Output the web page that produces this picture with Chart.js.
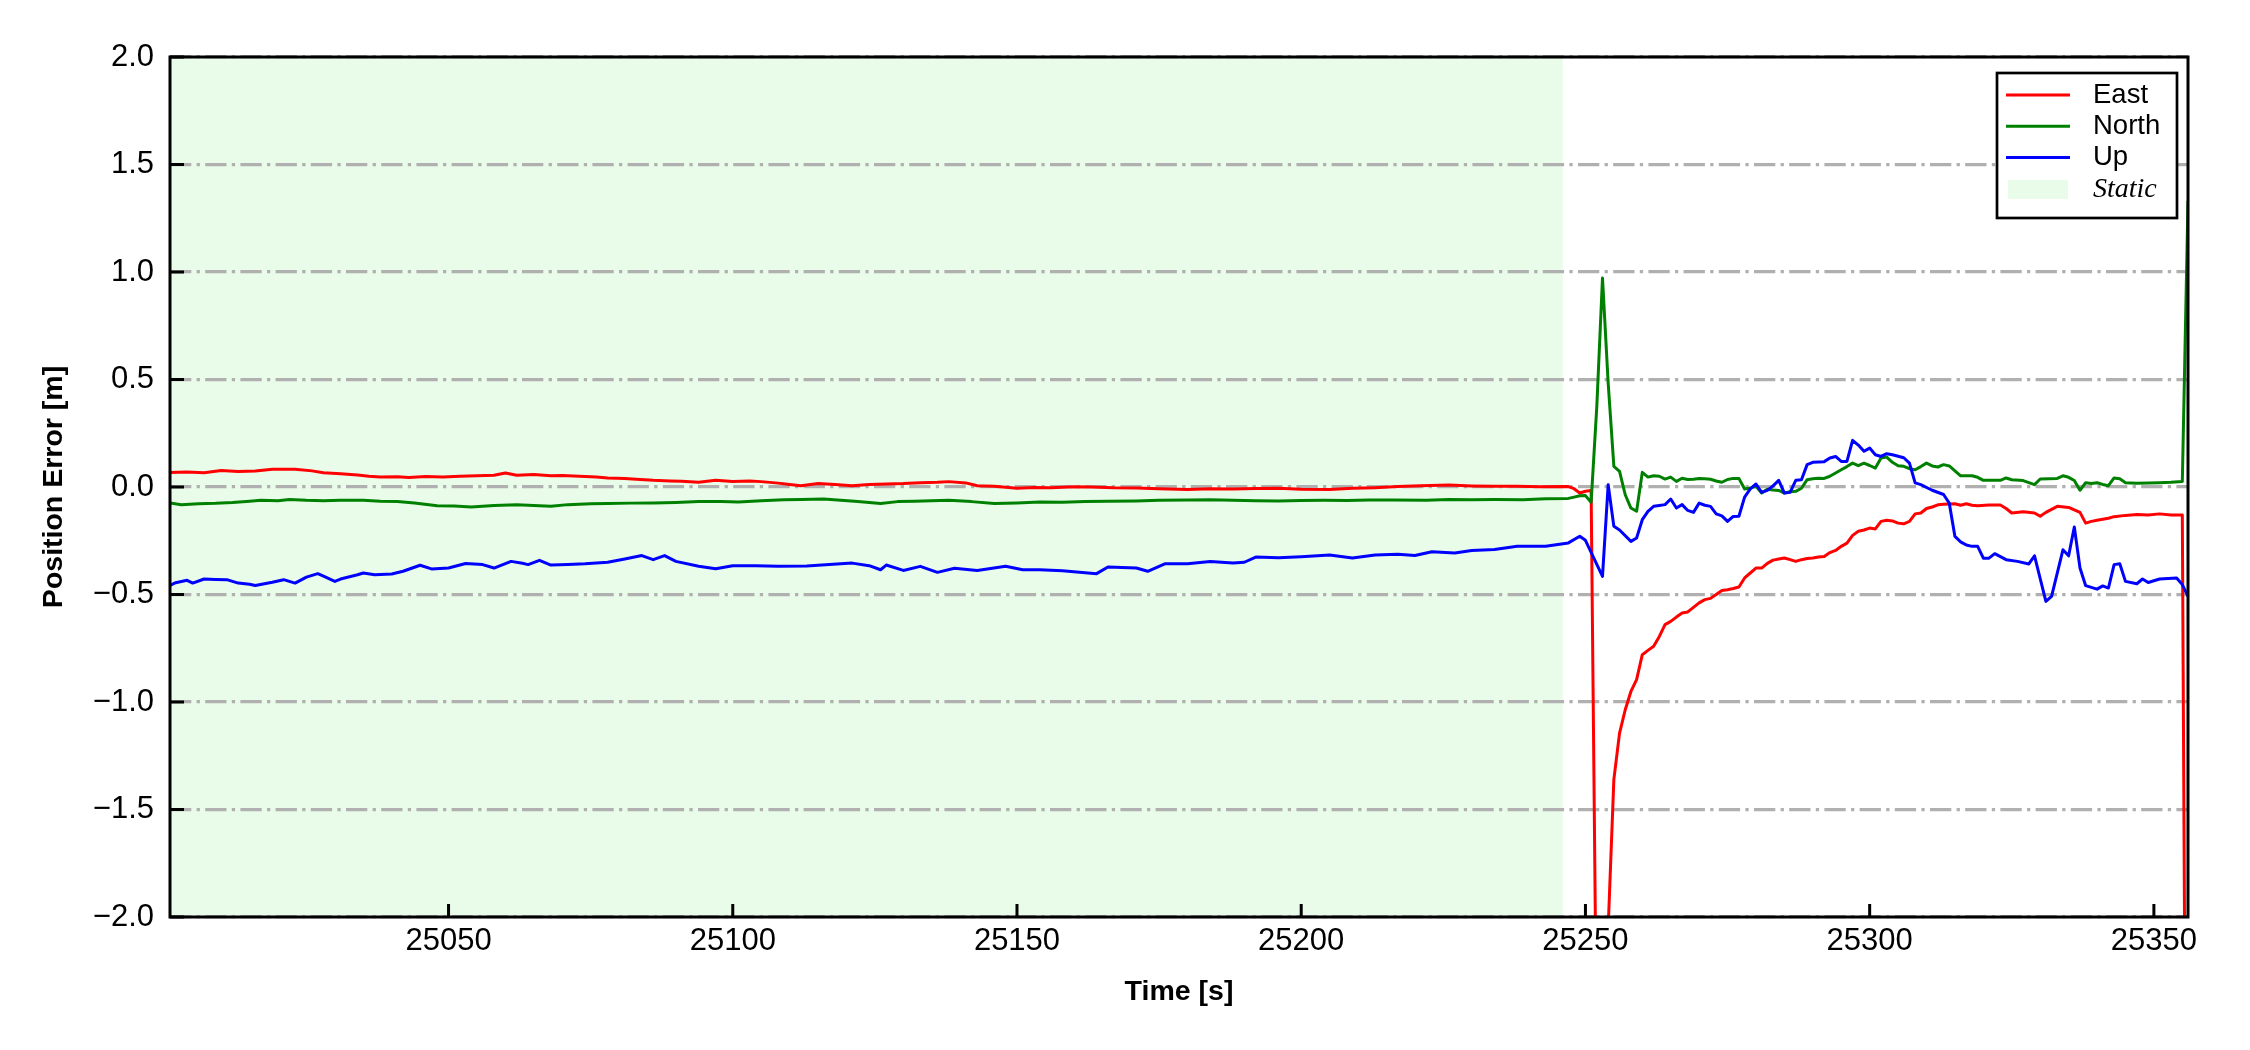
<!DOCTYPE html>
<html>
<head>
<meta charset="utf-8">
<script src="https://cdn.jsdelivr.net/npm/chart.js@4.4.1/dist/chart.umd.min.js"></script>
<style>
  html, body { margin: 0; padding: 0; background: #fff; }
</style>
</head>
<body>
<canvas id="chart" width="2250" height="1050"></canvas>
<script>
// position error [m] against time [s]: [time, value]
const east = [
  [25001,0.068],[25004,0.070],[25007,0.066],[25010,0.077],[25013,0.072],[25016,0.074],[25019,0.083],[25023,0.083],
  [25026,0.075],[25028,0.066],[25031,0.062],[25034,0.056],[25036,0.050],[25038,0.046],[25041,0.048],[25043,0.044],
  [25046,0.049],[25049,0.046],[25052,0.050],[25055,0.052],[25058,0.055],[25060,0.065],[25062,0.055],[25065,0.058],
  [25068,0.052],[25070,0.053],[25073,0.050],[25076,0.046],[25078,0.042],[25081,0.040],[25083,0.036],[25086,0.031],
  [25089,0.028],[25091,0.027],[25094,0.022],[25097,0.031],[25100,0.026],[25103,0.028],[25105,0.025],[25108,0.018],
  [25110,0.012],[25112,0.006],[25115,0.016],[25118,0.012],[25121,0.006],[25124,0.012],[25127,0.014],[25130,0.016],
  [25133,0.020],[25136,0.022],[25138,0.025],[25141,0.019],[25143,0.006],[25146,0.004],[25150,-0.006],[25153,-0.002],
  [25156,-0.003],[25160,0.001],[25163,0.000],[25167,-0.004],[25171,-0.005],[25175,-0.008],[25180,-0.012],[25184,-0.008],
  [25188,-0.009],[25192,-0.007],[25196,-0.006],[25200,-0.010],[25205,-0.012],[25209,-0.006],[25213,-0.003],[25217,0.002],
  [25221,0.006],[25226,0.009],[25230,0.005],[25234,0.003],[25238,0.004],[25242,0.001],[25247,0.002],[25248,-0.008],
  [25249,-0.028],[25250,-0.020],[25251,-0.016],[25252,-2.7],[25253,-3.2],[25254,-2.05],[25255,-1.36],[25256,-1.145],
  [25257,-1.036],[25258,-0.951],[25259,-0.896],[25260,-0.780],[25261,-0.760],[25262,-0.741],[25263,-0.695],[25264,-0.640],
  [25265,-0.625],[25266,-0.605],[25267,-0.586],[25268,-0.581],[25269,-0.560],[25270,-0.539],[25271,-0.524],[25272,-0.518],
  [25273,-0.500],[25274,-0.481],[25275,-0.478],[25276,-0.472],[25277,-0.465],[25278,-0.423],[25279,-0.400],[25280,-0.377],
  [25281,-0.377],[25282,-0.355],[25283,-0.340],[25284,-0.335],[25285,-0.330],[25286,-0.338],[25287,-0.346],[25288,-0.338],
  [25289,-0.333],[25290,-0.330],[25291,-0.326],[25292,-0.323],[25293,-0.305],[25294,-0.295],[25295,-0.276],[25296,-0.261],
  [25297,-0.225],[25298,-0.206],[25299,-0.200],[25300,-0.191],[25301,-0.195],[25302,-0.160],[25303,-0.155],[25304,-0.158],
  [25305,-0.168],[25306,-0.171],[25307,-0.160],[25308,-0.125],[25309,-0.121],[25310,-0.100],[25311,-0.093],[25312,-0.083],
  [25313,-0.080],[25315,-0.078],[25316,-0.085],[25317,-0.078],[25318,-0.085],[25319,-0.087],[25321,-0.084],[25323,-0.084],
  [25324,-0.100],[25325,-0.121],[25327,-0.115],[25329,-0.121],[25330,-0.136],[25331,-0.118],[25333,-0.090],[25335,-0.095],
  [25337,-0.118],[25338,-0.168],[25339,-0.160],[25340,-0.155],[25342,-0.145],[25343,-0.138],[25345,-0.132],[25347,-0.128],
  [25349,-0.130],[25351,-0.125],[25353,-0.130],[25355,-0.130],[25356,-5.0]
];

const north = [
  [25001,-0.074],[25003,-0.083],[25006,-0.078],[25009,-0.076],[25012,-0.072],[25015,-0.066],[25017,-0.062],[25020,-0.064],
  [25022,-0.058],[25025,-0.062],[25028,-0.064],[25031,-0.062],[25035,-0.062],[25038,-0.066],[25041,-0.068],[25044,-0.074],
  [25048,-0.087],[25051,-0.088],[25054,-0.093],[25058,-0.086],[25062,-0.082],[25065,-0.086],[25068,-0.090],[25071,-0.082],
  [25075,-0.078],[25078,-0.077],[25082,-0.075],[25086,-0.074],[25090,-0.072],[25094,-0.068],[25098,-0.068],[25101,-0.070],
  [25105,-0.064],[25109,-0.059],[25112,-0.058],[25116,-0.056],[25119,-0.062],[25122,-0.068],[25126,-0.077],[25129,-0.068],
  [25132,-0.066],[25135,-0.064],[25138,-0.062],[25142,-0.068],[25146,-0.077],[25150,-0.074],[25154,-0.070],[25158,-0.071],
  [25162,-0.068],[25166,-0.066],[25171,-0.065],[25175,-0.062],[25180,-0.060],[25184,-0.059],[25188,-0.062],[25192,-0.064],
  [25196,-0.065],[25200,-0.063],[25204,-0.062],[25208,-0.063],[25212,-0.061],[25216,-0.060],[25222,-0.062],[25226,-0.058],
  [25230,-0.059],[25234,-0.058],[25239,-0.059],[25243,-0.055],[25247,-0.053],[25248,-0.047],[25249,-0.041],[25250,-0.040],
  [25251,-0.071],[25252,0.375],[25253,0.972],[25254,0.483],[25255,0.096],[25256,0.073],[25257,-0.036],[25258,-0.098],
  [25259,-0.113],[25260,0.068],[25261,0.046],[25262,0.052],[25263,0.050],[25264,0.037],[25265,0.046],[25266,0.026],
  [25267,0.041],[25268,0.035],[25269,0.036],[25270,0.040],[25271,0.038],[25272,0.036],[25273,0.028],[25274,0.022],
  [25275,0.035],[25276,0.040],[25277,0.040],[25278,-0.009],[25279,-0.005],[25280,0.003],[25281,-0.028],[25282,-0.010],
  [25283,-0.014],[25284,-0.016],[25285,-0.028],[25286,-0.022],[25287,-0.020],[25288,-0.006],[25289,0.034],[25290,0.038],
  [25291,0.041],[25292,0.040],[25293,0.050],[25294,0.065],[25295,0.080],[25296,0.095],[25297,0.111],[25298,0.099],
  [25299,0.111],[25300,0.100],[25301,0.088],[25302,0.135],[25303,0.139],[25304,0.115],[25305,0.099],[25306,0.096],
  [25307,0.085],[25308,0.080],[25309,0.095],[25310,0.111],[25311,0.098],[25312,0.093],[25313,0.104],[25314,0.098],
  [25315,0.075],[25316,0.052],[25318,0.052],[25319,0.045],[25320,0.031],[25323,0.031],[25324,0.042],[25325,0.034],
  [25327,0.030],[25329,0.011],[25330,0.037],[25333,0.040],[25334,0.052],[25335,0.045],[25336,0.030],[25337,-0.015],
  [25338,0.020],[25339,0.016],[25340,0.020],[25341,0.012],[25342,0.006],[25343,0.042],[25344,0.038],[25345,0.020],
  [25347,0.018],[25349,0.019],[25351,0.020],[25353,0.022],[25355,0.026],[25356,1.33]
];

const up = [
  [25001,-0.458],[25002,-0.445],[25004,-0.434],[25005,-0.447],[25007,-0.428],[25009,-0.430],[25011,-0.431],[25013,-0.447],
  [25015,-0.452],[25016,-0.458],[25019,-0.443],[25021,-0.431],[25023,-0.447],[25025,-0.419],[25027,-0.403],[25028,-0.415],
  [25030,-0.439],[25031,-0.428],[25034,-0.408],[25035,-0.400],[25037,-0.408],[25040,-0.405],[25042,-0.392],[25045,-0.364],
  [25047,-0.381],[25050,-0.377],[25053,-0.356],[25056,-0.361],[25058,-0.377],[25061,-0.346],[25063,-0.355],[25064,-0.361],
  [25066,-0.341],[25068,-0.363],[25071,-0.360],[25074,-0.357],[25078,-0.350],[25081,-0.335],[25084,-0.319],[25086,-0.338],
  [25088,-0.319],[25090,-0.346],[25094,-0.369],[25097,-0.380],[25100,-0.366],[25104,-0.366],[25108,-0.369],[25113,-0.368],
  [25117,-0.361],[25121,-0.354],[25124,-0.366],[25126,-0.385],[25127,-0.363],[25130,-0.388],[25133,-0.369],[25136,-0.397],
  [25139,-0.378],[25143,-0.388],[25148,-0.369],[25151,-0.385],[25154,-0.385],[25158,-0.390],[25161,-0.397],[25164,-0.403],
  [25166,-0.372],[25171,-0.377],[25173,-0.392],[25176,-0.357],[25180,-0.357],[25184,-0.346],[25188,-0.354],[25190,-0.350],
  [25192,-0.326],[25196,-0.329],[25200,-0.324],[25205,-0.316],[25209,-0.330],[25213,-0.316],[25217,-0.313],[25220,-0.319],
  [25223,-0.301],[25227,-0.307],[25230,-0.295],[25234,-0.291],[25238,-0.276],[25243,-0.276],[25247,-0.260],[25249,-0.229],
  [25250,-0.248],[25253,-0.416],[25254,0.011],[25255,-0.183],[25256,-0.200],[25258,-0.253],[25259,-0.237],[25260,-0.152],
  [25261,-0.113],[25262,-0.090],[25263,-0.086],[25264,-0.082],[25265,-0.056],[25266,-0.098],[25267,-0.082],[25268,-0.109],
  [25269,-0.118],[25270,-0.075],[25271,-0.085],[25272,-0.090],[25273,-0.125],[25274,-0.134],[25275,-0.160],[25276,-0.137],
  [25277,-0.136],[25278,-0.047],[25279,-0.009],[25280,0.014],[25281,-0.025],[25282,-0.016],[25283,0.005],[25284,0.031],
  [25285,-0.028],[25286,-0.025],[25287,0.031],[25288,0.034],[25289,0.104],[25290,0.115],[25292,0.118],[25293,0.135],
  [25294,0.142],[25295,0.119],[25296,0.119],[25297,0.217],[25298,0.195],[25299,0.166],[25300,0.181],[25301,0.150],
  [25302,0.142],[25303,0.155],[25304,0.150],[25306,0.136],[25307,0.111],[25308,0.019],[25309,0.011],[25311,-0.015],
  [25313,-0.035],[25314,-0.075],[25315,-0.230],[25316,-0.255],[25317,-0.270],[25318,-0.276],[25319,-0.276],[25320,-0.331],
  [25321,-0.331],[25322,-0.310],[25324,-0.338],[25326,-0.346],[25328,-0.358],[25329,-0.320],[25331,-0.532],[25332,-0.509],
  [25334,-0.292],[25335,-0.320],[25336,-0.186],[25337,-0.377],[25338,-0.459],[25340,-0.475],[25341,-0.460],[25342,-0.470],
  [25343,-0.361],[25344,-0.357],[25345,-0.439],[25347,-0.450],[25348,-0.428],[25349,-0.444],[25351,-0.428],[25354,-0.423],
  [25355,-0.454],[25356,-0.509]
];

const staticSpan = [25001, 25246];
const xTicks = [25050, 25100, 25150, 25200, 25250, 25300, 25350];
const xTickLabels = ['25050', '25100', '25150', '25200', '25250', '25300', '25350'];
const yTicks = [-2, -1.5, -1, -0.5, 0, 0.5, 1, 1.5, 2];
const yTickLabels = ['\u22122.0', '\u22121.5', '\u22121.0', '\u22120.5', '0.0', '0.5', '1.0', '1.5', '2.0'];

const sans = "'Liberation Sans', Arial, sans-serif";
const staticColor = 'rgba(144, 238, 144, 0.2)';

const toXY = pts => pts.map(p => ({ x: p[0], y: p[1] }));

// white page + green "static" band behind the grid
const staticShade = {
  id: 'staticShade',
  beforeDraw(chart) {
    const { ctx, chartArea: a, scales: { x } } = chart;
    ctx.save();
    ctx.fillStyle = '#fff';
    ctx.fillRect(0, 0, chart.width, chart.height);
    const x0 = Math.max(a.left, x.getPixelForValue(staticSpan[0]));
    const x1 = Math.min(a.right, x.getPixelForValue(staticSpan[1]));
    ctx.fillStyle = staticColor;
    ctx.fillRect(x0, a.top, x1 - x0, a.bottom - a.top);
    ctx.restore();
  }
};

// box around the plot, ticks pointing inwards
const frameTicks = {
  id: 'frameTicks',
  afterDatasetsDraw(chart) {
    const { ctx, chartArea: a, scales: { x, y } } = chart;
    ctx.save();
    ctx.strokeStyle = '#000';
    ctx.lineWidth = 3;
    ctx.beginPath();
    xTicks.forEach(v => {
      const px = x.getPixelForValue(v);
      ctx.moveTo(px, a.bottom);
      ctx.lineTo(px, a.bottom - 13);
    });
    yTicks.forEach(v => {
      const py = y.getPixelForValue(v);
      ctx.moveTo(a.left, py);
      ctx.lineTo(a.left + 14, py);
    });
    ctx.stroke();
    ctx.strokeRect(a.left, a.top, a.right - a.left, a.bottom - a.top);
    ctx.restore();
  }
};

// framed legend in the top right corner
const boxLegend = {
  id: 'boxLegend',
  afterDraw(chart) {
    const { ctx, chartArea: a } = chart;
    const left = a.right - 191, top = a.top + 16, w = 180, h = 145;
    ctx.save();
    ctx.fillStyle = '#fff';
    ctx.fillRect(left, top, w, h);
    ctx.lineWidth = 2.7;
    ctx.strokeStyle = '#000';
    ctx.strokeRect(left, top, w, h);
    ctx.textBaseline = 'middle';
    ctx.textAlign = 'left';
    ctx.fillStyle = '#000';
    ctx.font = '27.5px ' + sans;
    chart.data.datasets.forEach((ds, i) => {
      const ry = top + 22 + i * 31.3;
      ctx.strokeStyle = ds.borderColor;
      ctx.lineWidth = 3;
      ctx.beginPath();
      ctx.moveTo(left + 9, ry);
      ctx.lineTo(left + 73, ry);
      ctx.stroke();
      ctx.fillText(ds.label, left + 96, ry);
    });
    const sy = top + 22 + 3 * 31.3;
    ctx.fillStyle = staticColor;
    ctx.fillRect(left + 11, sy - 9, 60, 19);
    ctx.fillStyle = '#000';
    ctx.font = "italic 28px 'Liberation Serif', 'Times New Roman', serif";
    ctx.fillText('Static', left + 96, sy + 1);
    ctx.restore();
  }
};

new Chart(document.getElementById('chart'), {
  type: 'line',
  data: {
    datasets: [
      { label: 'East', data: toXY(east), borderColor: '#ff0000', order: 3 },
      { label: 'North', data: toXY(north), borderColor: '#008000', order: 2 },
      { label: 'Up', data: toXY(up), borderColor: '#0000ff', order: 1 }
    ]
  },
  options: {
    responsive: false,
    animation: false,
    layout: { padding: { top: 57, right: 62, left: 0, bottom: 0 } },
    elements: {
      point: { radius: 0 },
      line: { borderWidth: 3, tension: 0, borderJoinStyle: 'round', fill: false }
    },
    datasets: { line: { clip: 0 } },
    plugins: { legend: { display: false }, tooltip: { enabled: false } },
    scales: {
      x: {
        type: 'linear',
        min: 25001,
        max: 25356,
        afterBuildTicks: s => { s.ticks = xTicks.map(v => ({ value: v })); },
        afterFit: s => { s.height = 133; },
        ticks: {
          callback: v => xTickLabels[xTicks.indexOf(v)],
          font: { family: sans, size: 31 },
          color: '#000',
          padding: 6,
          maxRotation: 0,
          autoSkip: false
        },
        grid: { display: false, drawTicks: false },
        border: { display: false },
        title: {
          display: true,
          text: 'Time [s]',
          color: '#000',
          font: { family: sans, size: 28.5, weight: 'bold' },
          padding: { top: 0, bottom: 41 }
        }
      },
      y: {
        min: -2,
        max: 2,
        afterBuildTicks: s => { s.ticks = yTicks.map(v => ({ value: v })); },
        afterFit: s => { s.width = 170; },
        ticks: {
          callback: v => yTickLabels[yTicks.indexOf(v)],
          font: { family: sans, size: 31 },
          color: '#000',
          padding: 16
        },
        grid: { color: '#b0b0b0', lineWidth: 3.3, drawTicks: false },
        border: { display: false, dash: [21.3, 5.3, 3.3, 5.3] },
        title: {
          display: true,
          text: 'Position Error [m]',
          color: '#000',
          font: { family: sans, size: 28.5, weight: 'bold' },
          padding: { top: 37, bottom: 0 }
        }
      }
    }
  },
  plugins: [staticShade, frameTicks, boxLegend]
});
</script>
</body>
</html>
